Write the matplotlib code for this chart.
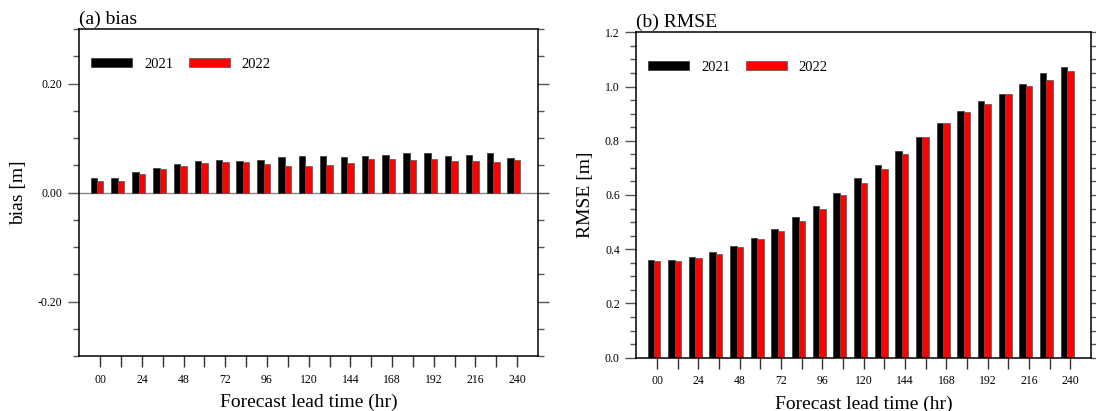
import matplotlib.pyplot as plt
import numpy as np
from matplotlib.ticker import MultipleLocator, FormatStrFormatter

plt.rcParams['font.family'] = ['Liberation Serif', 'DejaVu Serif']
plt.rcParams['axes.unicode_minus'] = False

# forecast lead times (hr), one bar pair per lead time
lead_hours = [0, 12, 24, 36, 48, 60, 72, 84, 96, 108, 120,
              132, 144, 156, 168, 180, 192, 204, 216, 228, 240]
tick_labels = ['00' if h == 0 else (str(h) if h % 24 == 0 else '') for h in lead_hours]
years = ['2021', '2022']

bias_2021 = [0.026, 0.026, 0.037, 0.045, 0.052, 0.059, 0.060, 0.058, 0.060, 0.066, 0.067,
             0.068, 0.066, 0.067, 0.069, 0.073, 0.073, 0.068, 0.070, 0.072, 0.064]
bias_2022 = [0.021, 0.021, 0.034, 0.044, 0.049, 0.054, 0.057, 0.057, 0.053, 0.049, 0.048,
             0.051, 0.054, 0.061, 0.061, 0.060, 0.061, 0.058, 0.058, 0.057, 0.060]

rmse_2021 = [0.360, 0.360, 0.371, 0.389, 0.413, 0.441, 0.473, 0.518, 0.559, 0.609, 0.661,
             0.709, 0.761, 0.815, 0.867, 0.909, 0.946, 0.971, 1.011, 1.050, 1.071]
rmse_2022 = [0.355, 0.355, 0.366, 0.384, 0.407, 0.436, 0.467, 0.504, 0.547, 0.600, 0.643,
             0.695, 0.752, 0.815, 0.864, 0.905, 0.934, 0.974, 1.002, 1.025, 1.059]

fig = plt.figure(figsize=(10.96, 4.11), dpi=100)
ax1 = fig.add_axes([0.0724, 0.1338, 0.4185, 0.795])
ax2 = fig.add_axes([0.5807, 0.1297, 0.4147, 0.7917])

x = np.arange(len(lead_hours))
w = 0.31
tick_col = '#555555'


def draw_panel(ax, v21, v22, title, ylabel, ylim, major, fmt):
    b1 = ax.bar(x - w, v21, w, color='black', edgecolor='#333333', linewidth=0.5, label=years[0])
    b2 = ax.bar(x, v22, w, color='red', edgecolor='#555555', linewidth=0.5, label=years[1])
    ax.set_xlim(-1, 21)
    ax.set_ylim(*ylim)
    ax.set_xticks(x)
    ax.set_xticklabels(tick_labels)
    ax.yaxis.set_major_locator(MultipleLocator(major))
    ax.yaxis.set_minor_locator(MultipleLocator(0.05))
    ax.yaxis.set_major_formatter(FormatStrFormatter(fmt))
    ax.tick_params(axis='y', which='major', direction='out', left=True, right=True,
                   length=8, width=1, color=tick_col, labelsize=8.5, pad=4)
    ax.tick_params(axis='y', which='minor', direction='out', left=True, right=True,
                   length=4, width=1, color=tick_col)
    ax.tick_params(axis='x', which='major', direction='out', bottom=True, top=False,
                   length=7.7, width=1, color='#333333', labelsize=8.5, pad=5)
    for s in ax.spines.values():
        s.set_linewidth(1.1)
    ax.set_title(title, loc='left', fontsize=14, pad=4)
    ax.set_xlabel('Forecast lead time (hr)', fontsize=14, labelpad=6)
    ax.set_ylabel(ylabel, fontsize=14, labelpad=8)
    ax.legend(handles=[b1, b2], ncol=2, loc='upper left', bbox_to_anchor=(0.0255, 0.913),
              frameon=False, fontsize=10.5, handlelength=2.83, handleheight=0.575,
              handletextpad=0.8, columnspacing=1.07, borderpad=0, borderaxespad=0)


draw_panel(ax1, bias_2021, bias_2022, '(a) bias', 'bias [m]', (-0.3, 0.3), 0.2, '%.2f')
ax1.axhline(0, color='#888888', linewidth=1.0, zorder=0.5)
draw_panel(ax2, rmse_2021, rmse_2022, '(b) RMSE', 'RMSE [m]', (0, 1.2), 0.2, '%.1f')

fig.savefig('out.png', dpi=100)
